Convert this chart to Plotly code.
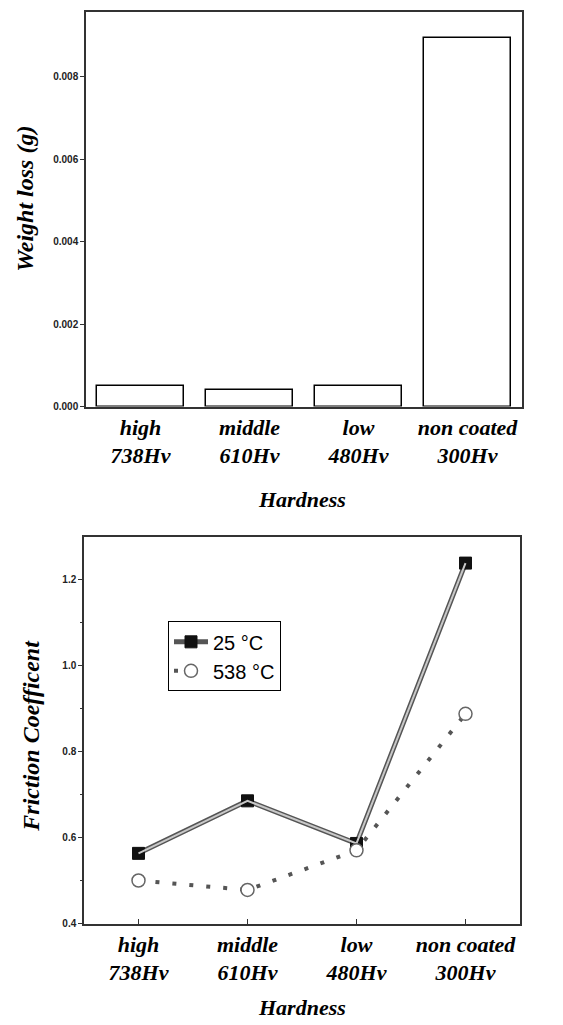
import plotly.graph_objects as go

categories = ["high<br>738Hv", "middle<br>610Hv", "low<br>480Hv", "non coated<br>300Hv"]
weight_loss = [0.00051, 0.00041, 0.00051, 0.00894]
friction_25 = [0.563, 0.685, 0.586, 1.237]
friction_538 = [0.500, 0.478, 0.570, 0.887]

W, H = 563, 1025
serif = "Liberation Serif"
xpos = [0, 1, 2, 3]

fig = go.Figure()

# Top: weight loss bars
fig.add_trace(go.Bar(x=xpos, y=weight_loss, width=0.79,
                     marker=dict(color="white", line=dict(color="black", width=1.5)),
                     showlegend=False, xaxis="x", yaxis="y"))

# Bottom: friction coefficient
fig.add_trace(go.Scatter(x=xpos, y=friction_25, mode="lines+markers", name="25 °C",
                         line=dict(color="#555555", width=5),
                         marker=dict(symbol="square", size=12, color="#111111",
                                     line=dict(color="#111111", width=1)),
                         xaxis="x2", yaxis="y2"))
fig.add_trace(go.Scatter(x=xpos, y=friction_25, mode="lines", showlegend=False,
                         line=dict(color="#c8c8c8", width=2),
                         xaxis="x2", yaxis="y2"))
fig.add_trace(go.Scatter(x=xpos, y=friction_538, mode="lines+markers", name="538 °C",
                         line=dict(color="#555555", width=4, dash="4px,13px"),
                         marker=dict(symbol="circle", size=13, color="white",
                                     line=dict(color="#666666", width=1.5)),
                         xaxis="x2", yaxis="y2"))

axis_common = dict(showline=True, linecolor="#333333", linewidth=1.5, mirror=True,
                   showgrid=False, zeroline=False)
tickfont_x = dict(family=serif, size=22, color="black")
tickfont_y = dict(family="Liberation Sans", size=10, color="#222222", weight="bold")

fig.update_layout(
    width=W, height=H,
    margin=dict(l=0, r=0, t=0, b=0),
    paper_bgcolor="white", plot_bgcolor="white",
    bargap=0,
    xaxis=dict(domain=[86 / W, 522 / W], range=[-0.5, 3.5], tickmode="array",
               tickvals=xpos, ticktext=[f"<b><i>{c}</i></b>" for c in categories],
               ticks="", tickfont=tickfont_x, anchor="y", **axis_common),
    yaxis=dict(domain=[1 - 409 / H, 1 - 12 / H], range=[0, 0.00957], dtick=0.002,
               tickformat=".3f", ticks="outside", ticklen=4, tickcolor="#333333",
               tickfont=tickfont_y, anchor="x", **axis_common),
    xaxis2=dict(domain=[84 / W, 520 / W], range=[-0.5, 3.5], tickmode="array",
                tickvals=xpos, ticktext=[f"<b><i>{c}</i></b>" for c in categories],
                ticks="inside", ticklen=5, tickcolor="#333333",
                tickfont=tickfont_x, anchor="y2", **axis_common),
    yaxis2=dict(domain=[1 - 929 / H, 1 - 540 / H], range=[0.4, 1.298], dtick=0.2,
                tickformat=".1f", ticks="outside", ticklen=4, tickcolor="#333333",
                minor=dict(ticks="outside", ticklen=2, dtick=0.1, tickcolor="#333333"),
                tickfont=tickfont_y, anchor="x2", **axis_common),
    legend=dict(x=168 / W, y=1 - 625 / H, xanchor="left", yanchor="top",
                bordercolor="black", borderwidth=1, bgcolor="white",
                font=dict(family="Liberation Sans", size=20, color="black"),
                itemwidth=34, tracegroupgap=0),
)

anns = [
    dict(text="<b><i>Weight loss (g)</i></b>", x=25 / W, y=1 - 200 / H, textangle=-90, size=24),
    dict(text="<b><i>Hardness</i></b>", x=302 / W, y=1 - 502 / H, textangle=0, size=22),
    dict(text="<b><i>Friction Coefficent</i></b>", x=31 / W, y=1 - 740 / H, textangle=-90, size=24),
    dict(text="<b><i>Hardness</i></b>", x=302 / W, y=1 - 1013 / H, textangle=0, size=22),
]
for a in anns:
    fig.add_annotation(text=a["text"], x=a["x"], y=a["y"], xref="paper", yref="paper",
                       xanchor="center", yanchor="middle", textangle=a["textangle"],
                       showarrow=False, font=dict(family=serif, size=a["size"], color="black"))

fig.write_html("out.html", config={"displayModeBar": False},
               post_script="document.body.style.margin='0';")
